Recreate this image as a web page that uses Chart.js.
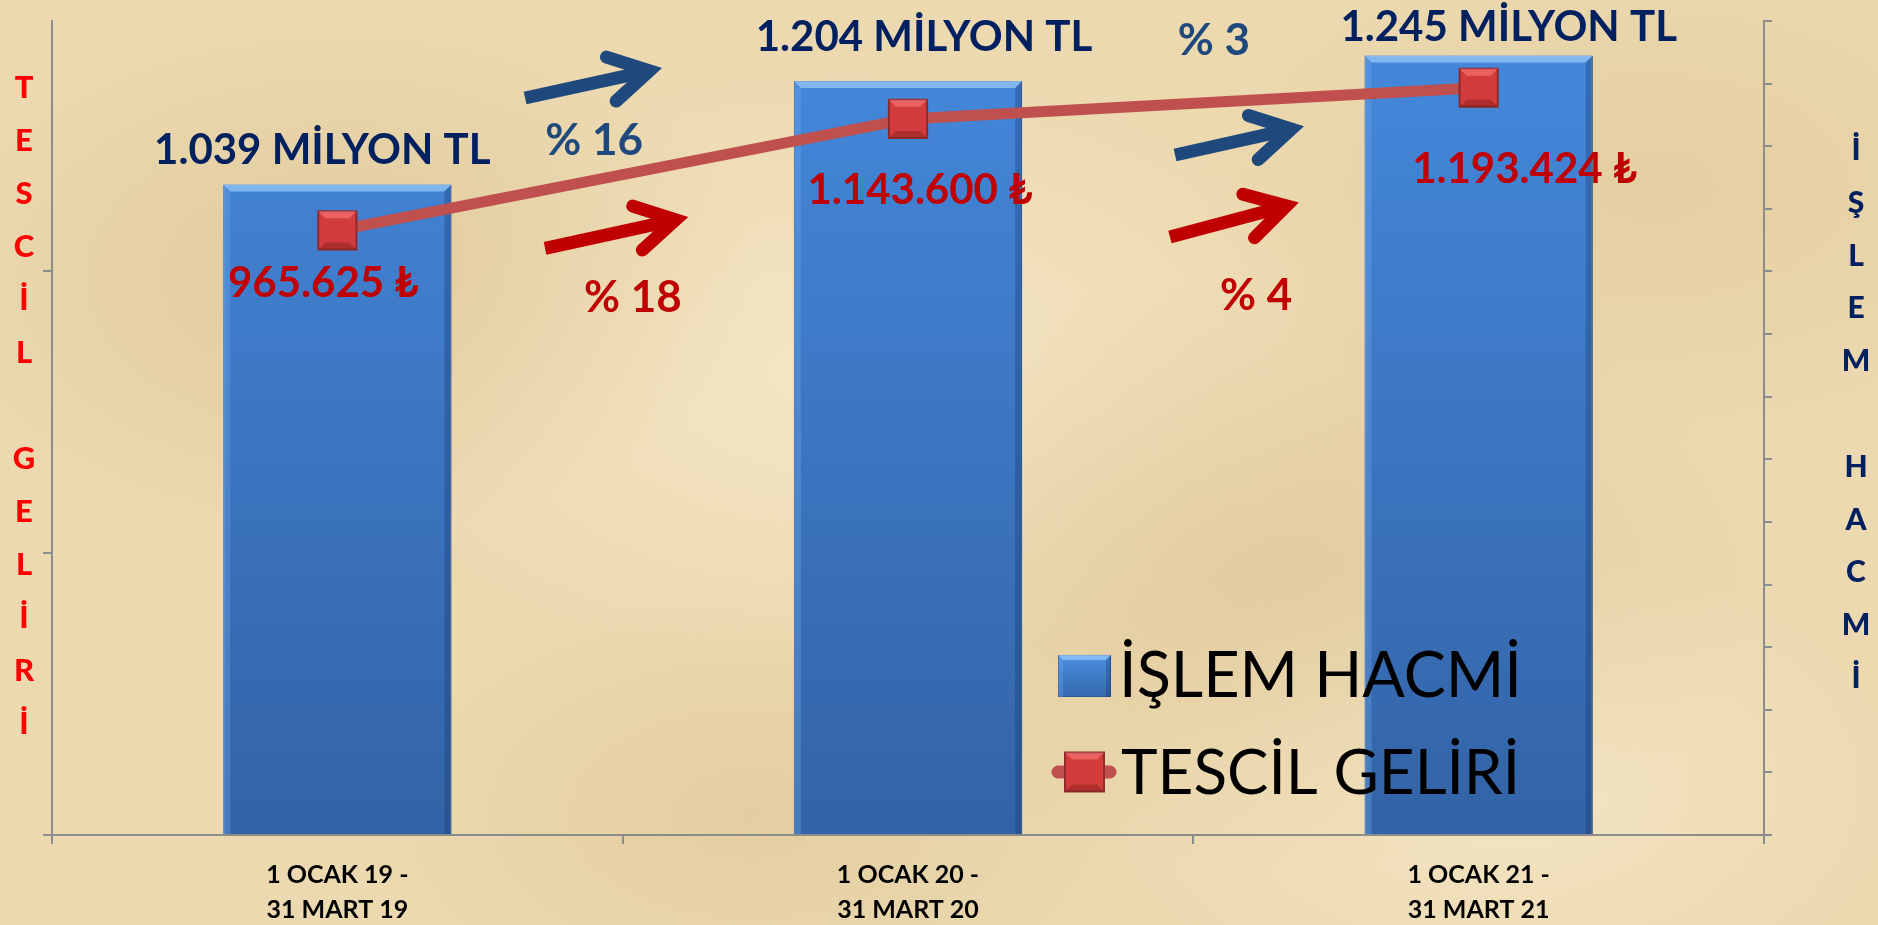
<!DOCTYPE html>
<html lang="tr">
<head>
<meta charset="utf-8">
<title>İşlem Hacmi ve Tescil Geliri</title>
<script src="https://cdn.jsdelivr.net/npm/chart.js@4.4.1/dist/chart.umd.min.js"></script>
<style>
    html, body {
        margin: 0;
        padding: 0;
        width: 1878px;
        height: 925px;
        overflow: hidden;
    }
    body {
        background:
            radial-gradient(ellipse 420px 260px at 18% 30%, rgba(205, 175, 120, 0.35), transparent),
            radial-gradient(ellipse 500px 300px at 68% 62%, rgba(205, 175, 120, 0.30), transparent),
            radial-gradient(ellipse 380px 220px at 40% 88%, rgba(210, 180, 125, 0.30), transparent),
            radial-gradient(ellipse 460px 260px at 88% 20%, rgba(210, 180, 125, 0.28), transparent),
            radial-gradient(ellipse 520px 300px at 45% 40%, rgba(255, 246, 222, 0.45), transparent),
            radial-gradient(ellipse 400px 240px at 80% 85%, rgba(255, 246, 222, 0.40), transparent),
            #ecd9b0;
    }
    #chart {
        display: block;
    }
</style>
</head>
<body>
<canvas id="chart" width="1878" height="925"></canvas>
<script>
// Dönemler (x ekseni etiketleri)
const periods = [
    ['1 OCAK 19 -', '31 MART 19'],
    ['1 OCAK 20 -', '31 MART 20'],
    ['1 OCAK 21 -', '31 MART 21']
];

// İşlem hacmi (milyon TL) - sağ eksen
const islemHacmi = [1039, 1204, 1245];
// Tescil geliri (TL) - sol eksen
const tescilGeliri = [965625, 1143600, 1193424];

// Veri etiketleri
const hacimLabels = ['1.039 MİLYON TL', '1.204 MİLYON TL', '1.245 MİLYON TL'];
const gelirLabels = ['965.625 ₺', '1.143.600 ₺', '1.193.424 ₺'];
const hacimGrowth = ['% 16', '% 3'];
const gelirGrowth = ['% 18', '% 4'];

// Eksenler
const leftTicks = [0, 450000, 900000];
const leftMax = 1300000;
const rightMax = 1300;
const rightStep = 100;

// Eksen başlıkları
const leftTitle = 'TESCİL GELİRİ';
const rightTitle = 'İŞLEM HACMİ';

// Renkler
const NAVY = '#002060';
const BLUE = '#1f497d';
const RED = '#c00000';
const AXIS = '#8c8c8c';
const LINE_RED = '#c0504d';
const FONT = 'Lato, "Noto Sans", "DejaVu Sans", sans-serif';

// Etiket yerleşimi (px, çubuk tepesine / noktaya göre)
const hacimLabelOffsets = [[-15, -20], [16, -30], [30, -14]];
const gelirLabelOffsets = [[-14, 67], [12, 85], [46, 95]];
// Artış etiketleri ve oklar (kategori indeksi, sağ eksen değeri)
const hacimGrowthPos = [[0.450, 1086], [1.536, 1246]];
const gelirGrowthPos = [[0.518, 836], [1.610, 838]];
const hacimArrows = [[[0.329, 1177], [0.569, 1225]], [[1.468, 1086], [1.694, 1132]]];
const gelirArrows = [[[0.364, 937], [0.615, 987]], [[1.459, 955], [1.685, 1010]]];

// Çubuk dolgu degrade
function barGradient(context) {
    const area = context.chart.chartArea;
    if (!area) return '#3f7fd0';
    const g = context.chart.ctx.createLinearGradient(0, area.top, 0, area.bottom);
    g.addColorStop(0, '#4589dd');
    g.addColorStop(1, '#3363a6');
    return g;
}

// Yazı yardımcı
function drawText(ctx, str, x, y, font, color, align) {
    ctx.font = font;
    ctx.fillStyle = color;
    ctx.textAlign = align || 'center';
    ctx.textBaseline = 'alphabetic';
    ctx.fillText(str, x, y);
}

// Ok çizimi
function drawArrow(ctx, x0, y0, x1, y1, color) {
    const ang = Math.atan2(y1 - y0, x1 - x0);
    const w = 13;
    const tx = x1 - Math.cos(ang) * w;
    const ty = y1 - Math.sin(ang) * w;
    const head = 45;
    const spread = Math.PI / 6;
    ctx.save();
    ctx.strokeStyle = color;
    ctx.lineWidth = w;
    ctx.lineCap = 'butt';
    ctx.beginPath();
    ctx.moveTo(x0, y0);
    ctx.lineTo(tx - Math.cos(ang) * 6, ty - Math.sin(ang) * 6);
    ctx.stroke();
    ctx.lineCap = 'round';
    ctx.lineJoin = 'miter';
    ctx.beginPath();
    ctx.moveTo(tx - head * Math.cos(ang - spread), ty - head * Math.sin(ang - spread));
    ctx.lineTo(tx, ty);
    ctx.lineTo(tx - head * Math.cos(ang + spread), ty - head * Math.sin(ang + spread));
    ctx.stroke();
    ctx.restore();
}

// Çubuk kabartması
function bevelRect(ctx, left, top, right, bottom, d) {
    ctx.save();
    ctx.fillStyle = 'rgba(150, 200, 250, 0.75)';
    ctx.beginPath();
    ctx.moveTo(left, top);
    ctx.lineTo(right, top);
    ctx.lineTo(right - d, top + d);
    ctx.lineTo(left + d, top + d);
    ctx.closePath();
    ctx.fill();
    ctx.fillStyle = 'rgba(110, 165, 235, 0.35)';
    ctx.beginPath();
    ctx.moveTo(left, top);
    ctx.lineTo(left + d, top + d);
    ctx.lineTo(left + d, bottom);
    ctx.lineTo(left, bottom);
    ctx.closePath();
    ctx.fill();
    ctx.fillStyle = 'rgba(20, 45, 100, 0.30)';
    ctx.beginPath();
    ctx.moveTo(right, top);
    ctx.lineTo(right - d, top + d);
    ctx.lineTo(right - d, bottom);
    ctx.lineTo(right, bottom);
    ctx.closePath();
    ctx.fill();
    ctx.restore();
}

// Nokta kabartması
function bevelMarker(ctx, cx, cy, half) {
    const d = 7;
    ctx.save();
    ctx.fillStyle = 'rgba(255, 130, 130, 0.55)';
    ctx.beginPath();
    ctx.moveTo(cx - half, cy - half);
    ctx.lineTo(cx + half, cy - half);
    ctx.lineTo(cx + half - d, cy - half + d);
    ctx.lineTo(cx - half + d, cy - half + d);
    ctx.closePath();
    ctx.fill();
    ctx.fillStyle = 'rgba(110, 20, 20, 0.35)';
    ctx.beginPath();
    ctx.moveTo(cx - half, cy + half);
    ctx.lineTo(cx + half, cy + half);
    ctx.lineTo(cx + half - d, cy + half - d);
    ctx.lineTo(cx - half + d, cy + half - d);
    ctx.closePath();
    ctx.fill();
    ctx.restore();
}

const slidePlugin = {
    id: 'slideDecor',
    afterDatasetDraw(chart, args) {
        const ctx = chart.ctx;
        if (args.index === 0) {
            args.meta.data.forEach(bar => {
                const p = bar.getProps(['x', 'y', 'base', 'width'], true);
                bevelRect(ctx, p.x - p.width / 2, p.y, p.x + p.width / 2, p.base, 7);
            });
        } else if (args.index === 1) {
            args.meta.data.forEach(pt => {
                const p = pt.getProps(['x', 'y'], true);
                bevelMarker(ctx, p.x, p.y, 27 * Math.SQRT1_2);
            });
        }
    },
    afterDraw(chart) {
        const ctx = chart.ctx;
        const xs = chart.scales.x;
        const ys = chart.scales.y1;
        const px = v => xs.getPixelForValue(v);
        const py = v => ys.getPixelForValue(v);

        // İşlem hacmi etiketleri
        chart.getDatasetMeta(0).data.forEach((bar, i) => {
            const p = bar.getProps(['x', 'y'], true);
            drawText(ctx, hacimLabels[i], p.x + hacimLabelOffsets[i][0], p.y + hacimLabelOffsets[i][1],
                'bold 42px ' + FONT, NAVY);
        });
        // Tescil geliri etiketleri
        chart.getDatasetMeta(1).data.forEach((pt, i) => {
            const p = pt.getProps(['x', 'y'], true);
            drawText(ctx, gelirLabels[i], p.x + gelirLabelOffsets[i][0], p.y + gelirLabelOffsets[i][1],
                'bold 42px ' + FONT, RED);
        });

        // Artış okları ve yüzdeler
        hacimArrows.forEach(a => drawArrow(ctx, px(a[0][0]), py(a[0][1]), px(a[1][0]), py(a[1][1]), BLUE));
        gelirArrows.forEach(a => drawArrow(ctx, px(a[0][0]), py(a[0][1]), px(a[1][0]), py(a[1][1]), RED));
        hacimGrowth.forEach((t, i) => drawText(ctx, t, px(hacimGrowthPos[i][0]), py(hacimGrowthPos[i][1]),
            'bold 44px ' + FONT, BLUE));
        gelirGrowth.forEach((t, i) => drawText(ctx, t, px(gelirGrowthPos[i][0]), py(gelirGrowthPos[i][1]),
            'bold 44px ' + FONT, RED));

        // Eksen başlıkları (dikey harfler)
        Array.from(leftTitle).forEach((ch, i) => {
            drawText(ctx, ch, 24, 98 + i * 53, '900 31px ' + FONT, '#ff0000');
        });
        Array.from(rightTitle).forEach((ch, i) => {
            drawText(ctx, ch, 1856, 160 + i * 52.8, '900 30px ' + FONT, NAVY);
        });

        // Gösterge
        const ds = chart.data.datasets;
        const bx = 1058, row1 = 697, row2 = 794;
        ctx.save();
        const g = ctx.createLinearGradient(0, row1 - 42, 0, row1);
        g.addColorStop(0, '#4a90e2');
        g.addColorStop(1, '#3568ad');
        ctx.fillStyle = g;
        ctx.fillRect(bx, row1 - 42, 53, 42);
        ctx.strokeStyle = '#2b5a98';
        ctx.lineWidth = 1;
        ctx.strokeRect(bx + 0.5, row1 - 41.5, 52, 41);
        ctx.restore();
        bevelRect(ctx, bx, row1 - 42, bx + 53, row1, 5);
        drawText(ctx, ds[0].label, 1119, row1, '63px ' + FONT, '#000', 'left');

        const ly = row2 - 22;
        ctx.save();
        ctx.strokeStyle = LINE_RED;
        ctx.lineWidth = 13;
        ctx.lineCap = 'round';
        ctx.beginPath();
        ctx.moveTo(1058, ly);
        ctx.lineTo(1110, ly);
        ctx.stroke();
        ctx.fillStyle = '#d23c3c';
        ctx.fillRect(1065, ly - 19.5, 39, 39);
        ctx.strokeStyle = '#8f2b2b';
        ctx.lineWidth = 2;
        ctx.strokeRect(1065, ly - 19.5, 39, 39);
        ctx.restore();
        bevelMarker(ctx, 1084.5, ly, 19.5);
        drawText(ctx, ds[1].label, 1121, row2, '62px ' + FONT, '#000', 'left');
    }
};

function drawChart() {
    Chart.defaults.font.family = FONT;

    new Chart(document.getElementById('chart'), {
        type: 'bar',
        data: {
            labels: periods,
            datasets: [
                {
                    type: 'bar',
                    label: 'İŞLEM HACMİ',
                    data: islemHacmi,
                    yAxisID: 'y1',
                    order: 2,
                    backgroundColor: barGradient,
                    borderColor: '#2b5a98',
                    borderWidth: 1,
                    barPercentage: 0.4,
                    categoryPercentage: 1
                },
                {
                    type: 'line',
                    label: 'TESCİL GELİRİ',
                    data: tescilGeliri,
                    yAxisID: 'y',
                    order: 1,
                    borderColor: LINE_RED,
                    borderWidth: 11,
                    tension: 0,
                    pointStyle: 'rect',
                    pointRadius: 27,
                    pointBackgroundColor: '#d23c3c',
                    pointBorderColor: '#8f2b2b',
                    pointBorderWidth: 2
                }
            ]
        },
        options: {
            responsive: false,
            devicePixelRatio: 1,
            animation: false,
            layout: {
                autoPadding: false,
                padding: { top: 21, left: 0, right: 0, bottom: 0 }
            },
            plugins: {
                legend: { display: false },
                tooltip: { enabled: false }
            },
            scales: {
                x: {
                    ticks: {
                        color: '#000',
                        font: { family: FONT, weight: 'bold', size: 25, lineHeight: 1.4 },
                        padding: 13,
                        maxRotation: 0,
                        autoSkip: false
                    },
                    grid: {
                        drawOnChartArea: false,
                        offset: true,
                        tickLength: 9,
                        color: AXIS,
                        lineWidth: 2
                    },
                    border: { color: AXIS, width: 2 },
                    afterFit: scale => { scale.height = 90; }
                },
                y: {
                    position: 'left',
                    min: 0,
                    max: leftMax,
                    afterBuildTicks: scale => {
                        scale.ticks = leftTicks.map(v => ({ value: v }));
                    },
                    ticks: { display: false },
                    grid: {
                        drawOnChartArea: false,
                        tickLength: 9,
                        color: AXIS,
                        lineWidth: 2
                    },
                    border: { color: AXIS, width: 2 },
                    afterFit: scale => { scale.width = 52; }
                },
                y1: {
                    position: 'right',
                    min: 0,
                    max: rightMax,
                    ticks: { display: false, stepSize: rightStep },
                    grid: {
                        drawOnChartArea: false,
                        tickLength: 8,
                        color: AXIS,
                        lineWidth: 2
                    },
                    border: { color: AXIS, width: 2 },
                    afterFit: scale => { scale.width = 114; }
                }
            }
        },
        plugins: [slidePlugin]
    });
}

Promise.all([
    document.fonts.load('bold 40px Lato'),
    document.fonts.load('40px Lato')
]).catch(() => {}).then(drawChart);
</script>
</body>
</html>
